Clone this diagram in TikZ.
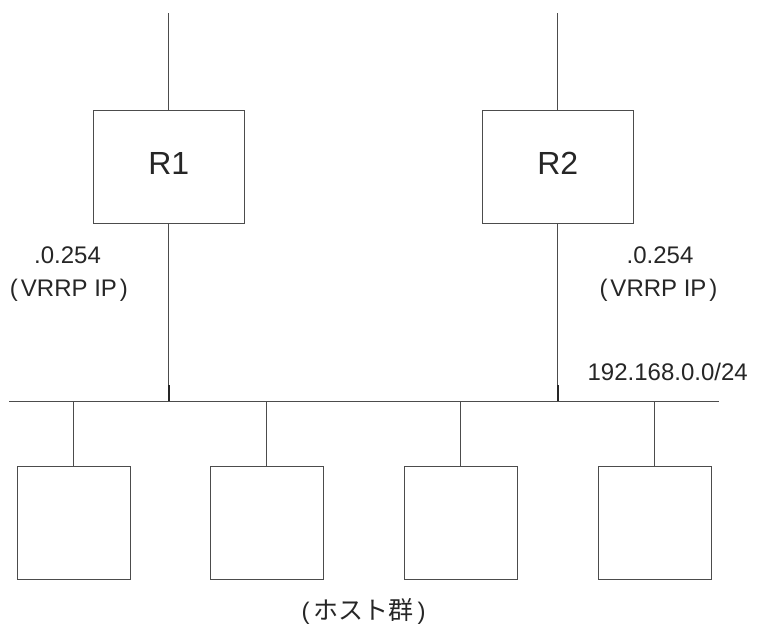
\documentclass[tikz,border=0pt]{standalone}
\usepackage{fontspec}
\setmainfont{Liberation Sans}
\newfontfamily\jp{Noto Sans CJK JP}
\begin{document}
\begin{tikzpicture}[x=1pt,y=-1pt,
  ln/.style={draw=black!70, line width=1pt},
  router/.style={ln, minimum width=151pt, minimum height=113pt, inner sep=0pt, text depth=6pt, font=\fontsize{32}{36}\selectfont, text=black!85},
  host/.style={ln, minimum width=113pt, minimum height=113pt, inner sep=0pt},
  lbl/.style={font=\fontsize{24}{28}\selectfont, inner sep=0pt, anchor=base, text=black!85},
  tickmark/.style={draw=black!85, line width=2.5pt}]
\useasboundingbox (0,0) rectangle (757,625);
% routers
\node[router] (R1) at (168.8,166.5) {R1};
\node[router] (R2) at (557.8,166.5) {R2};
\coordinate (t1) at (168.8,13);
\coordinate (t2) at (557.8,13);
\draw[ln] (t1) -- (R1.north);
\draw[ln] (t2) -- (R2.north);
% bus
\coordinate (busL) at (9,401);
\coordinate (busR) at (719,401);
\coordinate (j1) at (168.8,401);
\coordinate (j2) at (557.8,401);
\coordinate (k1) at (168.8,385);
\coordinate (k2) at (557.8,385);
\draw[ln] (busL) -- (busR);
\draw[ln] (R1.south) -- (j1);
\draw[ln] (R2.south) -- (j2);
\draw[tickmark] (k1) -- (j1);
\draw[tickmark] (k2) -- (j2);
% hosts
\node[host] (h1) at (73.5,522.5) {};
\node[host] (h2) at (266.5,522.5) {};
\node[host] (h3) at (460.5,522.5) {};
\node[host] (h4) at (654.5,522.5) {};
\foreach \h in {h1,h2,h3,h4} \draw[ln] (\h.north |- busL) -- (\h.north);
% labels
\node[lbl] (a1) at (67.5,263) {.0.254};
\node[lbl] (b1) at (69,296) {(\kern3pt VRRP IP\kern3pt)};
\node[lbl] (a2) at (660,263) {.0.254};
\node[lbl] (b2) at (658.5,296) {(\kern3pt VRRP IP\kern3pt)};
\node[lbl, anchor=base west] (net) at (587.4,380) {192.168.0.0/24};
\node[lbl] (hosts) at (363.5,619) {(\kern4pt{\jp\fontsize{25}{28}\selectfont ホスト群}\kern4pt)};
\end{tikzpicture}
\end{document}
